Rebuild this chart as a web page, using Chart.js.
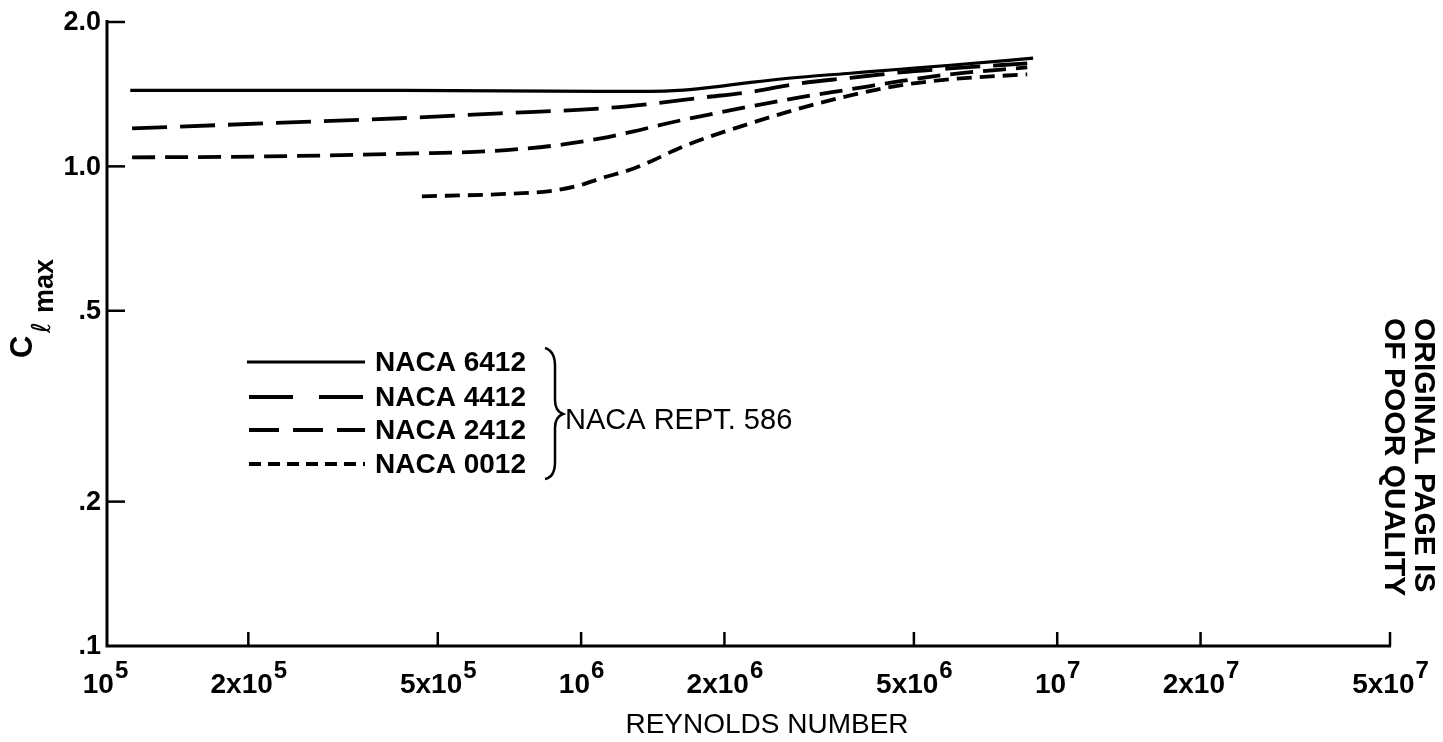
<!DOCTYPE html>
<html>
<head>
<meta charset="utf-8">
<title>Maximum lift coefficient vs Reynolds number</title>
<script src="https://cdn.jsdelivr.net/npm/chart.js@4/dist/chart.umd.min.js"></script>
<style>
  html, body { margin: 0; padding: 0; background: #fff; }
  #wrap { width: 1443px; height: 742px; position: relative; }
</style>
</head>
<body>
<div id="wrap"><canvas id="c" width="1443" height="742"></canvas></div>
<script>
// Reynolds number / maximum section lift coefficient, NACA Rept. 586
const reynolds6412 = [1.13e5, 4.2e5, 1.1e6, 1.4e6, 1.6e6, 1.85e6, 2.27e6, 2.88e6, 3.68e6, 4.68e6, 5.96e6, 8.9e6];
const clmax6412    = [1.44, 1.44, 1.434, 1.434, 1.44, 1.46, 1.497, 1.534, 1.564, 1.594, 1.625, 1.681];

const reynolds4412 = [1.14e5, 2.19e5, 4.17e5, 6.76e5, 1.1e6, 1.4e6, 1.78e6, 2.27e6, 2.88e6, 3.68e6, 4.68e6, 5.96e6, 8.65e6];
const clmax4412    = [1.20, 1.23, 1.26, 1.29, 1.32, 1.35, 1.39, 1.43, 1.49, 1.53, 1.57, 1.60, 1.64];

const reynolds2412 = [1.14e5, 2.19e5, 4.52e5, 6.35e5, 7.7e5, 9.17e5, 1.1e6, 1.29e6, 1.52e6, 1.78e6, 2.27e6, 2.88e6, 3.68e6, 4.68e6, 5.96e6, 8.65e6];
const clmax2412    = [1.044, 1.049, 1.064, 1.075, 1.09, 1.111, 1.144, 1.183, 1.23, 1.272, 1.334, 1.393, 1.448, 1.505, 1.556, 1.609];

const reynolds0012 = [4.63e5, 6.76e5, 8.6e5, 9.8e5, 1.1e6, 1.29e6, 1.4e6, 1.64e6, 2.27e6, 2.88e6, 3.68e6, 4.68e6, 5.96e6, 8.65e6];
const clmax0012    = [0.866, 0.875, 0.888, 0.91, 0.944, 0.99, 1.024, 1.101, 1.23, 1.321, 1.406, 1.476, 1.519, 1.556];

const seriesNames = ['NACA 6412', 'NACA 4412', 'NACA 2412', 'NACA 0012'];
const sourceNote = 'NACA REPT. 586';

const xTickValues    = [1e5, 2e5, 5e5, 1e6, 2e6, 5e6, 1e7, 2e7, 5e7];
const xTickMantissas = ['', '2x', '5x', '', '2x', '5x', '', '2x', '5x'];
const xTickExponents = ['5', '5', '5', '6', '6', '6', '7', '7', '7'];
const yTickValues    = [0.1, 0.2, 0.5, 1.0, 2.0];
const yTickLabels    = ['.1', '.2', '.5', '1.0', '2.0'];

const xTitle = 'REYNOLDS NUMBER';
const stampLines = ['ORIGINAL PAGE IS', 'OF POOR QUALITY'];

// line styles per series
const dashes = [[], [35, 13], [23, 10], [15, 8]];
const legendDashes = [[], [44, 26], [30, 14], [12, 7]];

const FONT = '"Liberation Sans", Arial, Helvetica, sans-serif';

function toPoints(xs, ys) { return xs.map((x, i) => ({ x: x, y: ys[i] })); }

const datasets = [
  [reynolds6412, clmax6412],
  [reynolds4412, clmax4412],
  [reynolds2412, clmax2412],
  [reynolds0012, clmax0012]
].map((pair, i) => ({
  label: seriesNames[i],
  data: toPoints(pair[0], pair[1]),
  borderColor: '#000',
  borderWidth: i === 0 ? 3.2 : 3.8,
  borderDash: dashes[i],
  borderCapStyle: 'butt',
  pointRadius: 0,
  fill: false,
  cubicInterpolationMode: 'monotone'
}));

const decorations = {
  id: 'decorations',
  afterDraw(chart) {
    const ctx = chart.ctx;
    const xs = chart.scales.x, ys = chart.scales.y;
    const x0 = xs.getPixelForValue(1e5) + 2;
    const yBottom = ys.getPixelForValue(0.1);
    const yTop = ys.getPixelForValue(2.0);
    ctx.save();
    ctx.strokeStyle = '#000';
    ctx.fillStyle = '#000';
    ctx.lineCap = 'butt';

    // axes
    ctx.lineWidth = 3;
    ctx.beginPath();
    ctx.moveTo(x0, yTop - 2);
    ctx.lineTo(x0, yBottom);
    ctx.lineTo(xs.getPixelForValue(5e7) + 1, yBottom);
    ctx.stroke();

    // y ticks (inward) and labels
    ctx.lineWidth = 2.5;
    ctx.font = 'bold 27px ' + FONT;
    ctx.textAlign = 'right';
    ctx.textBaseline = 'middle';
    yTickValues.forEach((v, i) => {
      const py = ys.getPixelForValue(v);
      if (v !== 0.1) {
        ctx.beginPath();
        ctx.moveTo(x0, py);
        ctx.lineTo(x0 + 18, py);
        ctx.stroke();
      }
      ctx.fillText(yTickLabels[i], 101, py + 1);
    });

    // x ticks (inward) and labels with superscript exponents
    ctx.textBaseline = 'alphabetic';
    ctx.textAlign = 'left';
    xTickValues.forEach((v, i) => {
      const px = xs.getPixelForValue(v);
      if (i > 0) {
        ctx.beginPath();
        ctx.moveTo(px, yBottom);
        ctx.lineTo(px, yBottom - 14);
        ctx.stroke();
      }
      const base = xTickMantissas[i] + '10';
      ctx.font = 'bold 28px ' + FONT;
      const wb = ctx.measureText(base).width;
      ctx.font = 'bold 24px ' + FONT;
      const we = ctx.measureText(xTickExponents[i]).width;
      const left = px - (wb + we) / 2;
      ctx.font = 'bold 28px ' + FONT;
      ctx.fillText(base, left, 693);
      ctx.font = 'bold 24px ' + FONT;
      ctx.fillText(xTickExponents[i], left + wb + 1, 678);
    });

    // x axis title
    ctx.font = '28px ' + FONT;
    ctx.textAlign = 'center';
    ctx.fillText(xTitle, 767, 733);

    // y axis title: C with subscript l-max, rotated
    ctx.save();
    ctx.translate(32, 358);
    ctx.rotate(-Math.PI / 2);
    ctx.textAlign = 'left';
    ctx.font = 'bold 31px ' + FONT;
    ctx.fillText('C', 0, 0);
    ctx.font = '26px "DejaVu Sans", ' + FONT;
    ctx.fillText('\u2113', 25, 18);
    ctx.font = 'bold 27px ' + FONT;
    ctx.fillText('max', 45, 21);
    ctx.restore();

    // legend
    const legendRows = [362, 397, 430, 464];
    ctx.font = 'bold 28px ' + FONT;
    ctx.textAlign = 'left';
    ctx.textBaseline = 'middle';
    legendRows.forEach((ly, i) => {
      ctx.lineWidth = i === 0 ? 3.2 : 3.8;
      ctx.setLineDash(legendDashes[i]);
      ctx.beginPath();
      ctx.moveTo(i === 0 ? 247 : 249, ly);
      ctx.lineTo(365, ly);
      ctx.stroke();
      ctx.setLineDash([]);
      ctx.fillText(seriesNames[i], 375, ly + 1);
    });

    // brace grouping the legend entries
    ctx.lineWidth = 2.5;
    ctx.beginPath();
    ctx.moveTo(545, 348);
    ctx.quadraticCurveTo(555, 351, 555, 366);
    ctx.lineTo(555, 400);
    ctx.quadraticCurveTo(555, 411, 563, 414);
    ctx.quadraticCurveTo(555, 417, 555, 428);
    ctx.lineTo(555, 462);
    ctx.quadraticCurveTo(555, 477, 545, 479);
    ctx.stroke();
    ctx.font = '29px ' + FONT;
    ctx.fillText(sourceNote, 565, 421);

    // stamp text at the right edge
    ctx.save();
    ctx.font = 'bold 30px ' + FONT;
    ctx.textBaseline = 'alphabetic';
    ctx.translate(1415, 318);
    ctx.rotate(Math.PI / 2);
    ctx.fillText(stampLines[0], 0, 0);
    ctx.restore();
    ctx.save();
    ctx.font = 'bold 30px ' + FONT;
    ctx.textBaseline = 'alphabetic';
    ctx.translate(1385, 318);
    ctx.rotate(Math.PI / 2);
    ctx.fillText(stampLines[1], 0, 0);
    ctx.restore();

    ctx.restore();
  }
};

new Chart(document.getElementById('c'), {
  type: 'line',
  data: { datasets: datasets },
  options: {
    responsive: false,
    animation: false,
    layout: { padding: { left: 105, right: 53, top: 22, bottom: 96 } },
    plugins: { legend: { display: false }, tooltip: { enabled: false } },
    scales: {
      x: { type: 'logarithmic', min: 1e5, max: 5e7, display: false },
      y: { type: 'logarithmic', min: 0.1, max: 2.0, display: false }
    }
  },
  plugins: [decorations]
});
</script>
</body>
</html>
